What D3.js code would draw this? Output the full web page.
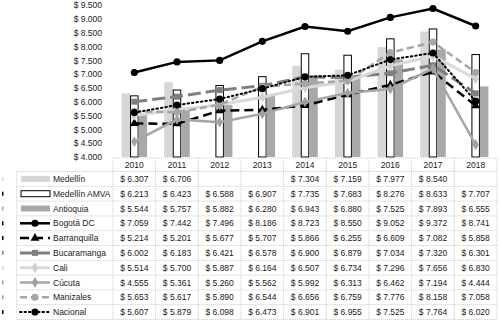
<!DOCTYPE html>
<html>
<head>
<meta charset="utf-8">
<script src="https://cdn.jsdelivr.net/npm/d3@7"></script>
<style>
  body { margin: 0; background: #fff; }
  svg { display: block; font-family: "Liberation Sans", Arial, sans-serif; }
</style>
</head>
<body>
<svg id="chart" width="500" height="323"></svg>
<script>
// data
const years = ['2010', '2011', '2012', '2013', '2014', '2015', '2016', '2017', '2018'];
const yTicks = [4000, 4500, 5000, 5500, 6000, 6500, 7000, 7500, 8000, 8500, 9000, 9500];

const medellin     = [6307, 6706, null, null, 7304, 7159, 7977, 8540, null];
const medellinAmva = [6213, 6423, 6588, 6907, 7735, 7683, 8276, 8633, 7707];
const antioquia    = [5544, 5757, 5882, 6280, 6943, 6880, 7525, 7893, 6555];
const bogota       = [7059, 7442, 7496, 8186, 8723, 8550, 9052, 9372, 8741];
const barranquilla = [5214, 5201, 5677, 5707, 5866, 6255, 6609, 7082, 5858];
const bucaramanga  = [6002, 6183, 6421, 6578, 6900, 6879, 7034, 7320, 6301];
const cali         = [5514, 5700, 5887, 6164, 6507, 6734, 7296, 7656, 6830];
const cucuta       = [4555, 5361, 5260, 5562, 5992, 6313, 6462, 7194, 4444];
const manizales    = [5653, 5617, 5890, 6544, 6656, 6759, 7776, 8158, 7058];
const nacional     = [5607, 5879, 6098, 6473, 6901, 6955, 7525, 7764, 6020];

const barSeries = [
    { name: 'Medellín', values: medellin, fill: '#d6d6d6', stroke: 'none' },
    { name: 'Medellín AMVA', values: medellinAmva, fill: '#ffffff', stroke: '#000' },
    { name: 'Antioquia', values: antioquia, fill: '#a8a8a8', stroke: 'none' }
];
const lineSeries = [
    { name: 'Bogotá DC', values: bogota, color: '#000', width: 2.5, dash: null, marker: 'circle', mcolor: '#000' },
    { name: 'Barranquilla', values: barranquilla, color: '#000', width: 2.5, dash: '9,5', marker: 'triangle', mcolor: '#000' },
    { name: 'Bucaramanga', values: bucaramanga, color: '#7f7f7f', width: 3, dash: '13,5', marker: 'square', mcolor: '#7f7f7f' },
    { name: 'Cali', values: cali, color: '#d9d9d9', width: 3, dash: null, marker: 'diamond', mcolor: '#d0d0d0' },
    { name: 'Cúcuta', values: cucuta, color: '#a6a6a6', width: 2.5, dash: null, marker: 'diamond', mcolor: '#a0a0a0' },
    { name: 'Manizales', values: manizales, color: '#a6a6a6', width: 2.5, dash: '7,4', marker: 'circle', mcolor: '#a6a6a6' },
    { name: 'Nacional', values: nacional, color: '#000', width: 2, dash: '1.5,3', marker: 'circle', mcolor: '#000' }
];

const svg = d3.select('#chart');
const plotLeft = 113, plotRight = 497, plotTop = 5, plotBottom = 157;
const textColor = '#1a1a1a';
const fontSize = '8.5px';

const x = d3.scaleBand().domain(years).range([plotLeft, plotRight]);
const y = d3.scaleLinear().domain([4000, 9500]).range([plotBottom, plotTop]);

const locale = d3.formatLocale({ decimal: ',', thousands: '.', grouping: [3], currency: ['$ ', ''] });
const money = locale.format('$,');

// y axis labels (no line, no ticks)
const yAxis = svg.append('g')
    .attr('transform', `translate(${plotLeft - 11},0)`)
    .call(d3.axisLeft(y).tickValues(yTicks).tickSize(0).tickPadding(0).tickFormat(money));
yAxis.select('.domain').remove();
yAxis.selectAll('text').style('font-size', fontSize).style('fill', textColor)
    .style('font-family', '"Liberation Sans", Arial, sans-serif');

// bars
const groupW = 25.5;
const xi = d3.scaleBand().domain(barSeries.map(d => d.name)).range([-groupW / 2, groupW / 2]);
barSeries.forEach(s => {
    svg.append('g').selectAll('rect')
        .data(years.map((yr, i) => ({ yr, v: s.values[i] })).filter(d => d.v != null))
        .join('rect')
        .attr('x', d => x(d.yr) + x.bandwidth() / 2 + xi(s.name) + (s.stroke !== 'none' ? 0.5 : 0))
        .attr('y', d => y(d.v))
        .attr('width', xi.bandwidth() - (s.stroke !== 'none' ? 1 : 0))
        .attr('height', d => plotBottom - y(d.v))
        .attr('fill', s.fill)
        .attr('stroke', s.stroke)
        .attr('stroke-width', 1);
});

// marker shapes
const symbolFor = m => ({ circle: d3.symbolCircle, triangle: d3.symbolTriangle, square: d3.symbolSquare, diamond: d3.symbolDiamond })[m];
const markerSize = { circle: 40, triangle: 34, square: 36, diamond: 34 };

// lines
const line = d3.line()
    .x(d => x(d.yr) + x.bandwidth() / 2)
    .y(d => y(d.v));
lineSeries.forEach(s => {
    const pts = years.map((yr, i) => ({ yr, v: s.values[i] }));
    const g = svg.append('g');
    g.append('path')
        .datum(pts)
        .attr('fill', 'none')
        .attr('stroke', s.color)
        .attr('stroke-width', s.width)
        .attr('stroke-dasharray', s.dash)
        .attr('stroke-linecap', s.dash === '1.5,3' ? 'round' : 'butt')
        .attr('d', line);
    g.selectAll('path.mk')
        .data(pts)
        .join('path')
        .attr('class', 'mk')
        .attr('transform', d => `translate(${x(d.yr) + x.bandwidth() / 2},${y(d.v)})`)
        .attr('d', d3.symbol().type(symbolFor(s.marker)).size(markerSize[s.marker]))
        .attr('fill', s.mcolor);
});

// data table
const allSeries = [...barSeries, ...lineSeries];
const headTop = 158, rowTop = 171.5, rowH = 14.8, tableLeft = 16.7;
const tableBottom = rowTop + rowH * allSeries.length;
const grid = svg.append('g')
    .attr('stroke', '#c8c8c8')
    .attr('stroke-width', 1)
    .attr('stroke-dasharray', '1,1');

grid.append('line').attr('x1', plotLeft).attr('x2', plotRight).attr('y1', headTop).attr('y2', headTop);
d3.range(allSeries.length + 1).forEach(i => {
    grid.append('line')
        .attr('x1', tableLeft).attr('x2', plotRight)
        .attr('y1', rowTop + i * rowH).attr('y2', rowTop + i * rowH);
});
grid.append('line').attr('x1', tableLeft).attr('x2', tableLeft).attr('y1', rowTop).attr('y2', tableBottom);
years.forEach(yr => {
    grid.append('line').attr('x1', x(yr)).attr('x2', x(yr)).attr('y1', headTop).attr('y2', tableBottom);
});
grid.append('line').attr('x1', plotRight).attr('x2', plotRight).attr('y1', headTop).attr('y2', tableBottom);

// header years
svg.append('g').selectAll('text')
    .data(years)
    .join('text')
    .attr('x', d => x(d) + x.bandwidth() / 2)
    .attr('y', (headTop + rowTop) / 2 + 3)
    .attr('text-anchor', 'middle')
    .style('font-size', fontSize)
    .style('fill', textColor)
    .text(d => d);

// rows
allSeries.forEach((s, r) => {
    const cy = rowTop + r * rowH + rowH / 2;
    const row = svg.append('g');
    // legend key
    if (s.fill) {
        row.append('rect')
            .attr('x', 21).attr('y', cy - 3).attr('width', 29).attr('height', 6)
            .attr('fill', s.fill)
            .attr('stroke', s.stroke === 'none' ? 'none' : '#000')
            .attr('stroke-width', 1);
    } else {
        row.append('line')
            .attr('x1', 20).attr('x2', 50).attr('y1', cy).attr('y2', cy)
            .attr('stroke', s.color)
            .attr('stroke-width', s.width)
            .attr('stroke-dasharray', s.dash)
            .attr('stroke-linecap', s.dash === '1.5,3' ? 'round' : 'butt');
        row.append('path')
            .attr('transform', `translate(35,${cy})`)
            .attr('d', d3.symbol().type(symbolFor(s.marker)).size(markerSize[s.marker]))
            .attr('fill', s.mcolor);
    }
    // clipped sliver at the far left
    row.append('rect')
        .attr('x', 2).attr('y', cy - 2).attr('width', 1.5).attr('height', 4)
        .attr('fill', s.fill ? (s.stroke === 'none' ? s.fill : '#000') : s.mcolor);
    row.append('text')
        .attr('x', 53).attr('y', cy + 3)
        .style('font-size', fontSize)
        .style('fill', textColor)
        .text(s.name);
    row.selectAll('text.val')
        .data(years.map((yr, i) => ({ yr, v: s.values[i] })).filter(d => d.v != null))
        .join('text')
        .attr('class', 'val')
        .attr('x', d => x(d.yr) + x.bandwidth() / 2)
        .attr('y', cy + 3)
        .attr('text-anchor', 'middle')
        .style('font-size', fontSize)
        .style('fill', textColor)
        .text(d => money(d.v));
});
</script>
</body>
</html>
